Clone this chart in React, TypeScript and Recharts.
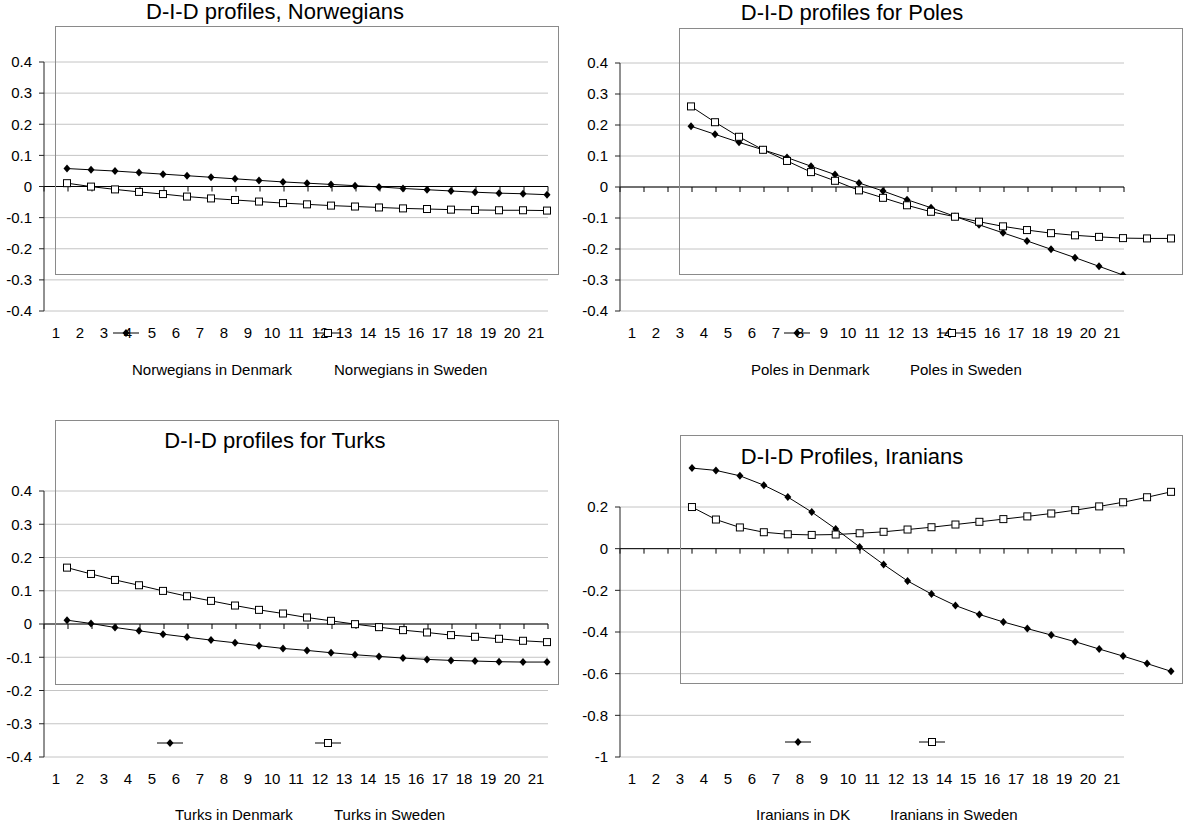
import React from 'react';
import { LineChart, Line, XAxis, YAxis, CartesianGrid, ReferenceLine, Legend } from 'recharts';

// categories on the x axis (also the tick labels 1..21)
const categories = [1, 2, 3, 4, 5, 6, 7, 8, 9, 10, 11, 12, 13, 14, 15, 16, 17, 18, 19, 20, 21];

const norwegiansDenmark = [0.058, 0.054, 0.05, 0.045, 0.04, 0.035, 0.03, 0.025, 0.02, 0.015, 0.011, 0.007, 0.003, -0.001, -0.006, -0.01, -0.014, -0.018, -0.021, -0.023, -0.026];
const norwegiansSweden = [0.011, 0.0, -0.009, -0.017, -0.024, -0.032, -0.038, -0.043, -0.048, -0.053, -0.057, -0.061, -0.064, -0.067, -0.07, -0.072, -0.074, -0.075, -0.076, -0.076, -0.077];

const polesDenmark = [0.196, 0.17, 0.144, 0.12, 0.095, 0.067, 0.04, 0.013, -0.013, -0.041, -0.067, -0.095, -0.122, -0.148, -0.174, -0.201, -0.228, -0.256, -0.284, -0.312, -0.34];
const polesSweden = [0.26, 0.209, 0.162, 0.12, 0.084, 0.048, 0.02, -0.011, -0.035, -0.059, -0.08, -0.096, -0.112, -0.127, -0.139, -0.149, -0.156, -0.161, -0.165, -0.166, -0.166];

const turksDenmark = [0.011, 0.001, -0.011, -0.021, -0.031, -0.04, -0.049, -0.057, -0.066, -0.074, -0.08, -0.087, -0.093, -0.098, -0.103, -0.107, -0.11, -0.112, -0.114, -0.115, -0.115];
const turksSweden = [0.169, 0.15, 0.132, 0.116, 0.099, 0.083, 0.069, 0.055, 0.042, 0.031, 0.019, 0.009, -0.001, -0.01, -0.019, -0.026, -0.034, -0.039, -0.045, -0.051, -0.055];

const iraniansDenmark = [0.387, 0.376, 0.35, 0.305, 0.248, 0.176, 0.095, 0.008, -0.076, -0.155, -0.218, -0.273, -0.316, -0.352, -0.384, -0.415, -0.447, -0.482, -0.516, -0.552, -0.589];
const iraniansSweden = [0.2, 0.14, 0.102, 0.079, 0.069, 0.066, 0.068, 0.074, 0.081, 0.092, 0.103, 0.116, 0.129, 0.142, 0.155, 0.169, 0.185, 0.203, 0.223, 0.247, 0.273];

const titles = ['D-I-D profiles, Norwegians', 'D-I-D profiles for Poles', 'D-I-D profiles for Turks', 'D-I-D Profiles, Iranians'];
const norwegianNames = ['Norwegians in Denmark', 'Norwegians in Sweden'];
const poleNames = ['Poles in Denmark', 'Poles in Sweden'];
const turkNames = ['Turks in Denmark', 'Turks in Sweden'];
const iranianNames = ['Iranians in DK', 'Iranians in Sweden'];

const yTicksSmall = [0.4, 0.3, 0.2, 0.1, 0, -0.1, -0.2, -0.3, -0.4];
const yTicksIran = [0.2, 0, -0.2, -0.4, -0.6, -0.8, -1];

// layout of each panel (page pixels)
const panels = [
  {
    title: titles[0], names: norwegianNames, dk: norwegiansDenmark, se: norwegiansSweden,
    yTicks: yTicksSmall, yDomain: [-0.4, 0.4], boxDomain: [-0.284, 0.516],
    plot: { left: 44, top: 62, width: 504, height: 249 },
    box: { left: 55, top: 26, width: 504, height: 249 },
    titlePos: { x: 275, y: 12 }, iconY: 333, iconX: [126, 328], textY: 370, textX: [132, 334],
  },
  {
    title: titles[1], names: poleNames, dk: polesDenmark, se: polesSweden,
    yTicks: yTicksSmall, yDomain: [-0.4, 0.4], boxDomain: [-0.284, 0.513],
    plot: { left: 620, top: 63, width: 504, height: 248 },
    box: { left: 679, top: 28, width: 504, height: 247 },
    titlePos: { x: 852, y: 13 }, iconY: 333, iconX: [797, 952], textY: 370, textX: [751, 910],
  },
  {
    title: titles[2], names: turkNames, dk: turksDenmark, se: turksSweden,
    yTicks: yTicksSmall, yDomain: [-0.4, 0.4], boxDomain: [-0.184, 0.613],
    plot: { left: 44, top: 491, width: 504, height: 266 },
    box: { left: 55, top: 420, width: 504, height: 265 },
    titlePos: { x: 275, y: 441 }, iconY: 743, iconX: [170, 328], textY: 815, textX: [175, 334],
  },
  {
    title: titles[3], names: iranianNames, dk: iraniansDenmark, se: iraniansSweden,
    yTicks: yTicksIran, yDomain: [-1, 0.2], boxDomain: [-0.65, 0.546],
    plot: { left: 620, top: 507, width: 504, height: 250 },
    box: { left: 680, top: 435, width: 503, height: 249 },
    titlePos: { x: 852, y: 457 }, iconY: 742, iconX: [798, 932], textY: 815, textX: [756, 890],
  },
];

const FONT = '"Liberation Sans", Arial, Helvetica, sans-serif';
const Y_AXIS_W = 44;
const TOP_PAD = 10;
const X_AXIS_H = 40;
const TEXT_SIZE = 15;

const boundaries = [...categories.map((c) => c - 0.5), categories[categories.length - 1] + 0.5];

const diamondDot = (props: any) => {
  const { cx, cy, index } = props;
  if (cx == null || cy == null) return <g key={`d-${index}`} />;
  return (
    <path key={`d-${index}`} d={`M${cx},${cy - 4}L${cx + 3.5},${cy}L${cx},${cy + 4}L${cx - 3.5},${cy}Z`} fill="#000" />
  );
};

const squareDot = (props: any) => {
  const { cx, cy, index } = props;
  if (cx == null || cy == null) return <g key={`s-${index}`} />;
  return <rect key={`s-${index}`} x={cx - 3.5} y={cy - 3.5} width={7} height={7} fill="#fff" stroke="#000" strokeWidth={1} />;
};

const LegendIcon = ({ kind }: { kind: 'diamond' | 'square' }) => (
  <svg width={28} height={10} style={{ display: 'block' }}>
    <line x1={1} y1={5} x2={27} y2={5} stroke="#000" strokeWidth={1} />
    {kind === 'diamond' ? (
      <path d="M14,1L17.5,5L14,9L10.5,5Z" fill="#000" />
    ) : (
      <rect x={10.5} y={1.5} width={7} height={7} fill="#fff" stroke="#000" />
    )}
  </svg>
);

function Panel({ p }: { p: (typeof panels)[number] }) {
  const rows = categories.map((x, i) => ({ x, dk: p.dk[i], se: p.se[i] }));
  const pxPerUnit = p.plot.height / (p.yDomain[1] - p.yDomain[0]);
  const tickLen = 5 / pxPerUnit;

  const legendContent = () => (
    <div style={{ position: 'relative', width: 0, height: 0 }}>
      {p.iconX.map((x, i) => (
        <div key={`i${i}`} style={{ position: 'absolute', left: x - p.box.left - 14, top: p.iconY - p.box.top - 5 }}>
          <LegendIcon kind={i === 0 ? 'diamond' : 'square'} />
        </div>
      ))}
      {p.textX.map((x, i) => (
        <div
          key={`t${i}`}
          style={{
            position: 'absolute', left: x - p.box.left, top: p.textY - p.box.top - 8,
            fontSize: TEXT_SIZE, lineHeight: '15px', whiteSpace: 'nowrap', color: '#000', fontFamily: FONT,
          }}
        >
          {p.names[i]}
        </div>
      ))}
    </div>
  );

  return (
    <>
      <div style={{ position: 'absolute', left: p.plot.left - Y_AXIS_W, top: p.plot.top - TOP_PAD }}>
        <LineChart
          width={Y_AXIS_W + p.plot.width + 10}
          height={TOP_PAD + p.plot.height + X_AXIS_H}
          data={rows}
          margin={{ top: TOP_PAD, right: 10, bottom: 0, left: 0 }}
        >
          <CartesianGrid horizontal vertical={false} stroke="#c4c4c4" />
          <XAxis
            type="number"
            dataKey="x"
            domain={[0.5, 21.5]}
            ticks={categories}
            interval={0}
            allowDataOverflow
            axisLine={false}
            tickLine={false}
            tickMargin={10}
            height={X_AXIS_H}
            tick={{ fill: '#000', fontSize: TEXT_SIZE }}
          />
          <YAxis
            type="number"
            domain={p.yDomain}
            ticks={p.yTicks}
            interval={0}
            allowDataOverflow
            width={Y_AXIS_W}
            axisLine={{ stroke: '#222' }}
            tickLine={{ stroke: '#222' }}
            tickSize={5}
            tickMargin={7}
            tick={{ fill: '#000', fontSize: TEXT_SIZE }}
            tickFormatter={(v: number) => String(v)}
          />
          <ReferenceLine y={0} stroke="#000" />
          {boundaries.map((b) => (
            <ReferenceLine key={b} segment={[{ x: b, y: 0 }, { x: b, y: -tickLen }]} stroke="#000" />
          ))}
        </LineChart>
      </div>
      <div
        style={{
          position: 'absolute', left: p.box.left, top: p.box.top, width: p.box.width, height: p.box.height,
          boxShadow: 'inset 0 0 0 1px #8a8a8a',
        }}
      >
        <LineChart width={p.box.width} height={p.box.height} data={rows} margin={{ top: 0, right: 0, bottom: 0, left: 0 }}>
          <XAxis type="number" dataKey="x" domain={[0.5, 21.5]} hide allowDataOverflow />
          <YAxis type="number" domain={p.boxDomain} hide allowDataOverflow />
          <Line dataKey="dk" name={p.names[0]} stroke="#000" strokeWidth={1} dot={diamondDot} isAnimationActive={false} />
          <Line dataKey="se" name={p.names[1]} stroke="#000" strokeWidth={1} dot={squareDot} isAnimationActive={false} />
          <Legend content={legendContent} wrapperStyle={{ left: 0, top: 0, width: 0, height: 0 }} />
        </LineChart>
      </div>
      <div
        style={{
          position: 'absolute', left: p.titlePos.x, top: p.titlePos.y, transform: 'translate(-50%, -50%)',
          fontSize: 22, lineHeight: '22px', whiteSpace: 'nowrap', color: '#000',
        }}
      >
        {p.title}
      </div>
    </>
  );
}

export default function App() {
  return (
    <div
      style={{
        position: 'absolute', left: 0, top: 0, width: 1184, height: 827, background: '#fff',
        fontFamily: FONT, overflow: 'hidden',
      }}
    >
      {panels.map((p) => (
        <Panel key={p.title} p={p} />
      ))}
    </div>
  );
}
